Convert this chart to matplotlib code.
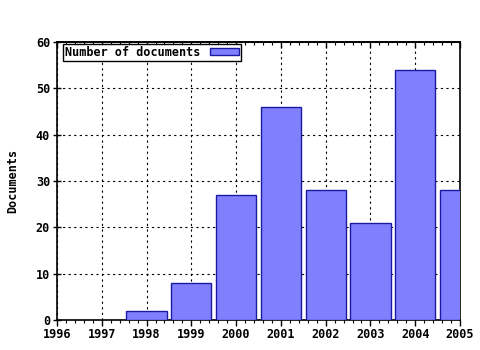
import numpy as np
import matplotlib
matplotlib.use("Agg")
import matplotlib.pyplot as plt
from matplotlib.ticker import MultipleLocator, AutoMinorLocator

# data
years = [1998, 1999, 2000, 2001, 2002, 2003, 2004, 2005]
documents = [2, 8, 27, 46, 28, 21, 54, 28]
xticks = list(range(1996, 2006))

plt.rcParams['font.family'] = 'DejaVu Sans Mono'
plt.rcParams['font.weight'] = 'bold'

fig = plt.figure(figsize=(4.8, 3.5), dpi=100)
ax = fig.add_axes([57 / 480, 30 / 350, 403 / 480, 278 / 350])

ax.bar(years, documents, width=0.9, color='#8080ff', edgecolor='#1a1aa0',
       linewidth=1, label='Number of documents', zorder=3)

ax.set_xlim(1996, 2005)
ax.set_ylim(0, 60)
ax.set_xticks(xticks)
ax.set_xticklabels([str(y) for y in xticks])
ax.xaxis.set_minor_locator(AutoMinorLocator(5))
ax.yaxis.set_major_locator(MultipleLocator(10))

ax.grid(True, which='major', color='black', linestyle=(0, (2, 3)), linewidth=0.8, zorder=1)
ax.set_axisbelow(True)

ax.tick_params(axis='x', which='major', direction='out', length=4, width=1,
               labelsize=8.5, pad=2)
ax.tick_params(axis='x', which='minor', direction='out', length=2, width=0.8)
ax.tick_params(axis='y', which='major', direction='inout', length=6, width=1,
               labelsize=8.5, pad=2)

# top axis with inward ticks
top = ax.secondary_xaxis('top')
top.set_xticks(xticks)
top.xaxis.set_minor_locator(AutoMinorLocator(5))
top.tick_params(which='major', direction='in', length=4, width=1, labeltop=False)
top.tick_params(which='minor', direction='in', length=2, width=0.8)
top.spines['top'].set_linewidth(1.2)

for s in ax.spines.values():
    s.set_linewidth(1.2)

ax.set_ylabel('Documents', fontsize=8.5, fontweight='bold', labelpad=12)

leg = ax.legend(loc='upper left', bbox_to_anchor=(6 / 403, 1 - 2 / 278),
                markerfirst=False, fontsize=8.5, frameon=True,
                fancybox=False, borderpad=0.15, handlelength=2.5, handleheight=0.6,
                borderaxespad=0, handletextpad=0.8)
leg.get_frame().set_edgecolor('black')
leg.get_frame().set_linewidth(1)
leg.get_frame().set_alpha(1)

fig.savefig('out.png', dpi=100)
